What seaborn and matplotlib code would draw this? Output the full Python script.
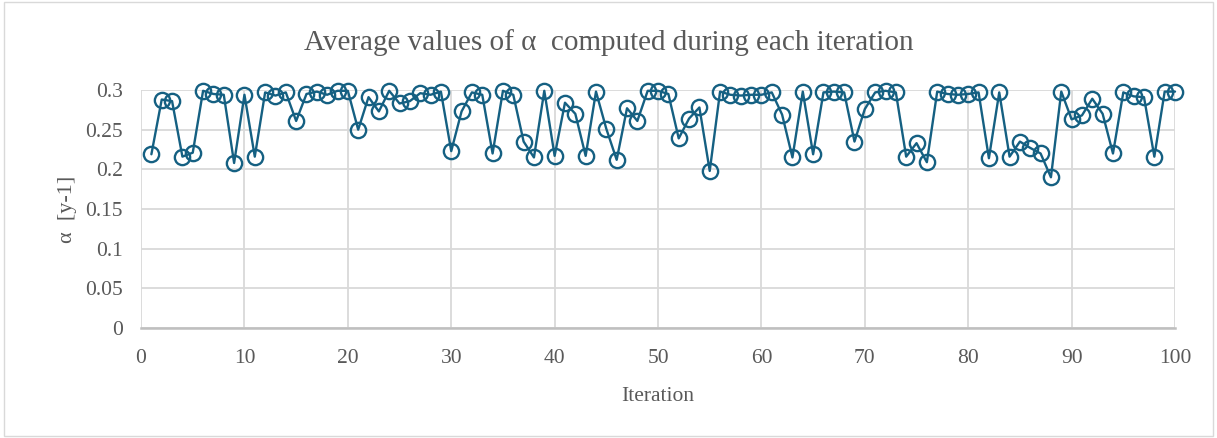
import numpy as np
import pandas as pd
import matplotlib
matplotlib.use("Agg")
import matplotlib.pyplot as plt
from matplotlib.patches import Rectangle
import seaborn as sns

iterations = list(range(1, 101))
alpha = [
    0.219, 0.288, 0.286, 0.216, 0.221, 0.299, 0.295, 0.294, 0.208, 0.294,
    0.216, 0.297, 0.293, 0.297, 0.261, 0.295, 0.298, 0.294, 0.299, 0.299,
    0.250, 0.291, 0.273, 0.299, 0.283, 0.286, 0.296, 0.294, 0.298, 0.223,
    0.273, 0.297, 0.294, 0.220, 0.299, 0.294, 0.235, 0.215, 0.299, 0.217,
    0.284, 0.270, 0.217, 0.298, 0.251, 0.212, 0.277, 0.261, 0.299, 0.299,
    0.295, 0.239, 0.264, 0.278, 0.198, 0.298, 0.294, 0.293, 0.294, 0.294,
    0.297, 0.269, 0.215, 0.298, 0.219, 0.297, 0.298, 0.297, 0.235, 0.276,
    0.297, 0.299, 0.297, 0.216, 0.233, 0.209, 0.298, 0.295, 0.294, 0.295,
    0.297, 0.214, 0.297, 0.216, 0.235, 0.227, 0.220, 0.190, 0.298, 0.263,
    0.268, 0.289, 0.270, 0.220, 0.297, 0.292, 0.291, 0.216, 0.298, 0.298,
]
x_ticks = list(range(0, 101, 10))
y_ticks = [0, 0.05, 0.1, 0.15, 0.2, 0.25, 0.3]
y_tick_labels = ["0", "0.05", "0.1", "0.15", "0.2", "0.25", "0.3"]

df = pd.DataFrame({"Iteration": iterations, "alpha": alpha})

sns.set_theme(style="white")
plt.rcParams["font.family"] = ["Liberation Serif", "DejaVu Serif"]

line_color = "#156082"
text_color = "#595959"
grid_color = "#D9D9D9"

fig = plt.figure(figsize=(12.17, 4.38), dpi=100)
ax = fig.add_axes([0.1159, 0.2511, 0.8496, 0.5434])

sns.lineplot(data=df, x="Iteration", y="alpha", ax=ax, color=line_color,
             linewidth=1.7, marker="o", markersize=11,
             markerfacecolor="none", markeredgecolor=line_color,
             markeredgewidth=1.7, clip_on=False, zorder=3)

ax.set_xlim(0, 100)
ax.set_ylim(0, 0.3)
ax.set_xticks(x_ticks)
ax.set_xticklabels([str(t) for t in x_ticks])
ax.set_yticks(y_ticks)
ax.set_yticklabels(y_tick_labels)
ax.grid(True, color=grid_color, linewidth=1.3)
ax.set_axisbelow(True)
for s in ["top", "right", "left"]:
    ax.spines[s].set_visible(False)
ax.spines["bottom"].set_color("#BFBFBF")
ax.spines["bottom"].set_linewidth(1.8)
ax.tick_params(axis="both", length=0, labelsize=15.5, colors=text_color)
ax.tick_params(axis="x", pad=15)
ax.tick_params(axis="y", pad=13)

ax.set_xlabel("Iteration", fontsize=15.5, color=text_color, labelpad=14)
ax.set_ylabel("\u03b1  [y-1]", fontsize=16, color=text_color, labelpad=6)
fig.text(0.5, 0.903, "Average values of \u03b1  computed during each iteration",
         ha="center", va="center", fontsize=21, color=text_color)

fig.patches.append(Rectangle((0.003, 0.005), 0.994, 0.99, transform=fig.transFigure,
                             fill=False, edgecolor="#D9D9D9", linewidth=1.0))

fig.savefig("out.png", dpi=100, facecolor="white")
